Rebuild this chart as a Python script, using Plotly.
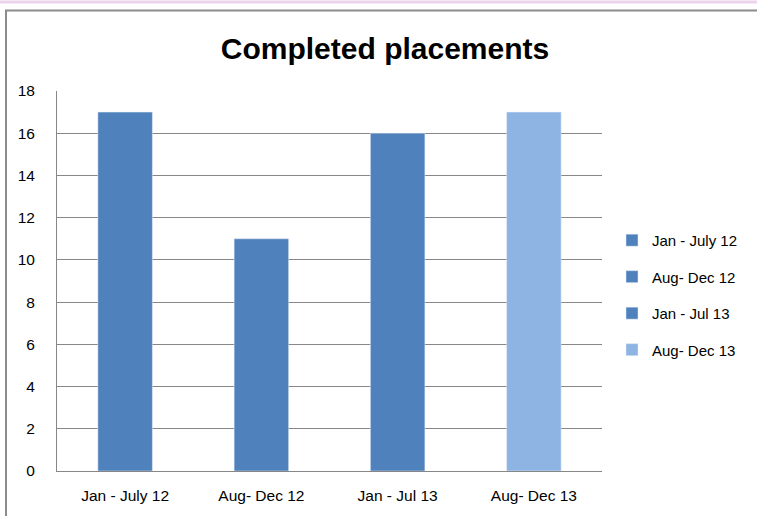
import plotly.graph_objects as go

categories = ["Jan - July 12", "Aug- Dec 12", "Jan - Jul 13", "Aug- Dec 13"]
values = [17, 11, 16, 17]
colors = ["#4F81BD", "#4F81BD", "#4F81BD", "#8EB4E3"]
y_ticks = [0, 2, 4, 6, 8, 10, 12, 14, 16, 18]

fig = go.Figure()
for i, (c, v) in enumerate(zip(categories, values)):
    fig.add_trace(go.Bar(x=[c], y=[v], name=c, marker_color=colors[i],
                         width=0.4, legendgroup=str(i)))

L, R, T, B = 57, 155, 91, 43
W, H = 757, 516
pw, ph = W - L - R, H - T - B

def px(x):
    return (x - L) / pw

def py(y):
    return (H - B - y) / ph

fig.update_layout(
    width=W, height=H,
    margin=dict(l=L, r=R, t=T, b=B),
    paper_bgcolor="white", plot_bgcolor="white",
    barmode="overlay",
    font=dict(family="Liberation Sans", size=15, color="#000000"),
    title=dict(text="<b>Completed placements</b>", x=(385) / W, xanchor="center",
               y=1 - 48 / H, yanchor="middle",
               font=dict(size=30, family="Liberation Sans", color="#000")),
    xaxis=dict(categoryorder="array", categoryarray=categories,
               showline=True, linecolor="#878787", linewidth=1,
               showgrid=False, ticks="", tickfont=dict(size=15.5), ticklabelstandoff=10),
    yaxis=dict(range=[0, 18], tickvals=y_ticks, showline=True, linecolor="#878787",
               linewidth=1, showgrid=True, gridcolor="#878787", gridwidth=1,
               zeroline=False, ticks="", tickfont=dict(size=15.5), ticklabelstandoff=18),
    legend=dict(x=px(612), xanchor="left", y=py(296), yanchor="middle",
                font=dict(size=15), traceorder="grouped", tracegroupgap=14,
                itemwidth=30, bgcolor="rgba(0,0,0,0)", borderwidth=0),
    showlegend=True,
)

# outer chart frame
fig.add_shape(type="rect", xref="paper", yref="paper",
              x0=px(6), x1=px(770), y0=py(530), y1=py(10),
              line=dict(color="#8C8C8C", width=2), layer="below")
# pinkish strip at top
fig.add_shape(type="rect", xref="paper", yref="paper",
              x0=px(0), x1=px(757), y0=py(3), y1=py(0),
              line=dict(width=0), fillcolor="#EBD3EE", layer="below")

fig.write_html("out.html", config={"displayModeBar": False},
               post_script="document.body.style.margin='0';document.body.style.overflow='hidden';")
